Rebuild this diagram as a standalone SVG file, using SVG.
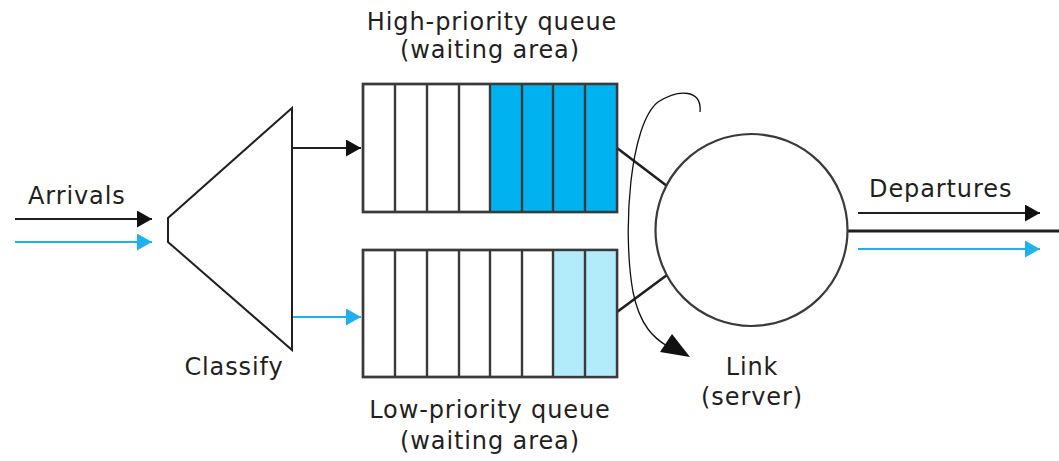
<svg xmlns="http://www.w3.org/2000/svg" width="1059" height="461" viewBox="0 0 1059 461">
<style>
text{font-family:"DejaVu Sans","Open Sans","Liberation Sans",sans-serif;font-size:24px;letter-spacing:0.9px;fill:#231f20}
.ln{stroke:#231f20;stroke-width:2;fill:none}
.bl{stroke:#1fb1ef;stroke-width:2;fill:none}
.cell{stroke:#3a3a3a;stroke-width:2.4;fill:#fff}
.hi{fill:#00b2f0}
.lo{fill:#b2ecfb}
</style>
<defs>
<marker id="ak" viewBox="0 0 10 10" refX="10" refY="5" markerWidth="15" markerHeight="17" markerUnits="userSpaceOnUse" orient="auto" preserveAspectRatio="none"><path d="M0 0L10 5L0 10z" fill="#111"/></marker>
<marker id="ab" viewBox="0 0 10 10" refX="10" refY="5" markerWidth="15" markerHeight="17" markerUnits="userSpaceOnUse" orient="auto" preserveAspectRatio="none"><path d="M0 0L10 5L0 10z" fill="#1fb1ef"/></marker>
</defs>
<g id="connectors">
<line class="ln" x1="15" y1="219" x2="152" y2="219" marker-end="url(#ak)"/>
<line class="bl" x1="15" y1="242" x2="152" y2="242" marker-end="url(#ab)"/>
<line class="ln" x1="292" y1="148" x2="361" y2="148" marker-end="url(#ak)"/>
<line class="bl" x1="292" y1="317" x2="361" y2="317" marker-end="url(#ab)"/>
<line class="ln" x1="617" y1="148" x2="667" y2="186" style="stroke-width:2.6"/>
<line class="ln" x1="617" y1="312" x2="667" y2="275" style="stroke-width:2.6"/>
<line class="ln" x1="847" y1="231" x2="1059" y2="231" style="stroke-width:3"/>
<line class="ln" x1="858" y1="213" x2="1040" y2="213" marker-end="url(#ak)"/>
<line class="bl" x1="858" y1="249" x2="1040" y2="249" marker-end="url(#ab)"/>
<path d="M700 112C702 90 680 88 658 102C630 124 622 230 633 292C640 326 654 338 667 346" fill="none" stroke="#111" stroke-width="1.3"/>
<polygon points="690,357 660,352 672,334" fill="#111"/>
</g>
<g id="arrivals"><text x="28" y="204">Arrivals</text></g>
<g id="classify">
<polygon points="292,108 168,218 168,242 292,350" fill="#fff" stroke="#231f20" stroke-width="2"/>
<text x="234" y="375" text-anchor="middle">Classify</text>
</g>
<g id="high-queue">
<rect class="cell" x="363" y="84" width="254" height="128"/>
<rect class="hi" x="490" y="84" width="127" height="128"/>
<path d="M395 84V212M427 84V212M459 84V212M490 84V212M522 84V212M553 84V212M585 84V212" stroke="#3a3a3a" stroke-width="2.4"/>
<rect x="363" y="84" width="254" height="128" fill="none" stroke="#3a3a3a" stroke-width="2.4"/>
<text x="492" y="30" text-anchor="middle">High-priority queue</text>
<text x="490" y="58" text-anchor="middle">(waiting area)</text>
</g>
<g id="low-queue">
<rect class="cell" x="363" y="250" width="254" height="127"/>
<rect class="lo" x="553" y="250" width="64" height="127"/>
<path d="M395 250V377M427 250V377M459 250V377M490 250V377M522 250V377M553 250V377M585 250V377" stroke="#3a3a3a" stroke-width="2.4"/>
<rect x="363" y="250" width="254" height="127" fill="none" stroke="#3a3a3a" stroke-width="2.4"/>
<text x="490" y="418" text-anchor="middle">Low-priority queue</text>
<text x="490" y="449" text-anchor="middle">(waiting area)</text>
</g>
<g id="link">
<circle cx="751.5" cy="230" r="96" fill="#fff" stroke="#3a3a3a" stroke-width="2.2"/>
<text x="752" y="375" text-anchor="middle">Link</text>
<text x="752" y="405" text-anchor="middle">(server)</text>
</g>
<g id="departures"><text x="869" y="197">Departures</text></g>
</svg>
